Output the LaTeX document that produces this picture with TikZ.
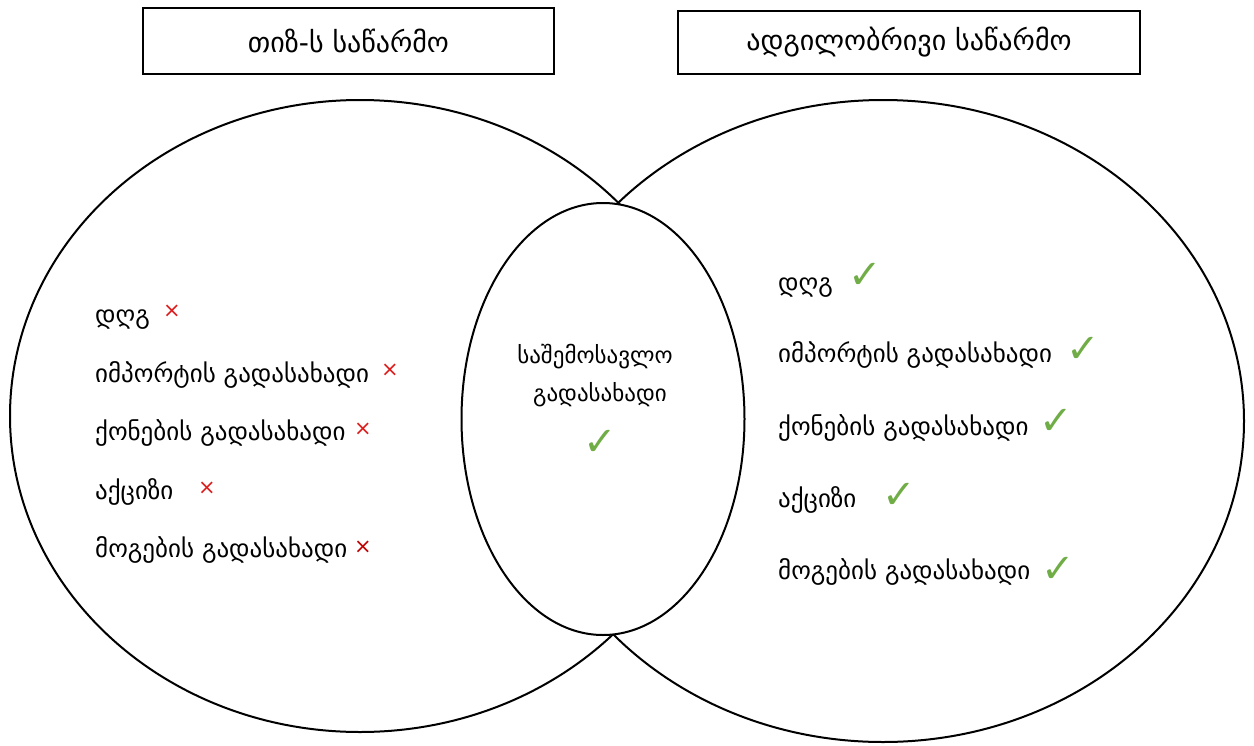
\documentclass[tikz,border=0pt]{standalone}
\usepackage{fontspec}
\setmainfont{DejaVu Sans}
\usetikzlibrary{shapes.geometric}
\definecolor{okgreen}{RGB}{112,173,71}
\definecolor{nored}{RGB}{222,28,28}
\definecolor{darkred}{RGB}{192,0,0}
\begin{document}
\begin{tikzpicture}[x=1pt,y=-1pt,
  hdr/.style={draw, line width=1.5pt, inner sep=0pt, font=\fontsize{28}{32}\selectfont},
  ell/.style={draw, ellipse, line width=2pt, inner sep=0pt},
  item/.style={anchor=base west, inner sep=0pt, font=\fontsize{25}{29}\selectfont},
  mid/.style={anchor=base, inner sep=0pt, font=\fontsize{23}{27}\selectfont},
  nomark/.style={inner sep=0pt, text=nored, font=\fontsize{21}{23}\selectfont},
  yesmark/.style={inner sep=0pt, text=okgreen, font=\fontsize{40}{42}\selectfont}]
\useasboundingbox (0,0) rectangle (1254,745);
% header boxes
\node[hdr, minimum width=411, minimum height=66] (tiz) at (348.5,41) {თიზ-ს საწარმო};
\node[hdr, minimum width=462, minimum height=63] (local) at (909,42.5) {ადგილობრივი საწარმო};
% ellipses
\node[ell, minimum width=700, minimum height=632] (left) at (360,416) {};
\node[ell, minimum width=722, minimum height=642] (right) at (883,421) {};
\node[ell, fill=white, minimum width=283, minimum height=432] (middle) at (603,419) {};
% left list
\node[item] (l1) at (95,323) {დღგ};
\node[item] (l2) at (95,382) {იმპორტის გადასახადი};
\node[item] (l3) at (95,440) {ქონების გადასახადი};
\node[item] (l4) at (95,499) {აქციზი};
\node[item] (l5) at (95,557) {მოგების გადასახადი};
\node[nomark] (x1) at (172,311) {×};
\node[nomark] (x2) at (390,370) {×};
\node[nomark] (x3) at (363,429) {×};
\node[nomark] (x4) at (207,488) {×};
\node[nomark, text=darkred] (x5) at (363,547) {×};
% middle
\node[mid] (m1) at (595,363) {საშემოსავლო};
\node[mid] (m2) at (600,401) {გადასახადი};
\node[yesmark] (c0) at (600,443) {✓};
% right list
\node[item] (r1) at (778,291) {დღგ};
\node[item] (r2) at (778,362) {იმპორტის გადასახადი};
\node[item] (r3) at (778,435) {ქონების გადასახადი};
\node[item] (r4) at (778,507) {აქციზი};
\node[item] (r5) at (778,579) {მოგების გადასახადი};
\node[yesmark] (c1) at (865,276) {✓};
\node[yesmark] (c2) at (1083,350) {✓};
\node[yesmark] (c3) at (1056,422) {✓};
\node[yesmark] (c4) at (899,496) {✓};
\node[yesmark] (c5) at (1058,570) {✓};
\end{tikzpicture}
\end{document}
